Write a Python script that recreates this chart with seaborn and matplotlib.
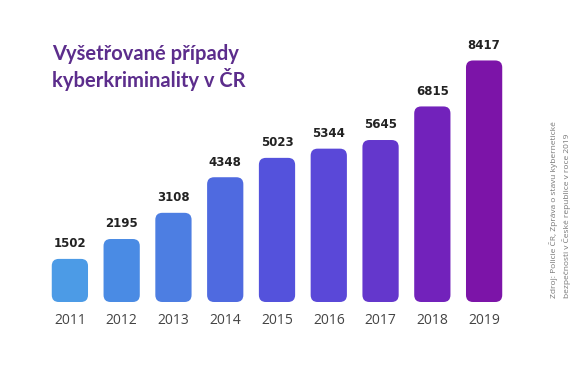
import numpy as np
import pandas as pd
import matplotlib
matplotlib.use('Agg')
import matplotlib.pyplot as plt
import seaborn as sns
from matplotlib.patches import FancyBboxPatch

# values
years  = ['2011', '2012', '2013', '2014', '2015', '2016', '2017', '2018', '2019']
cases  = [1502, 2195, 3108, 4348, 5023, 5344, 5645, 6815, 8417]
colors = ['#4c9be6', '#4a8be4', '#4d7ee2', '#4f6ae0', '#5452dc',
          '#5a48d8', '#6437cc', '#7222bb', '#7c14a8']

title  = 'Vyšetřované případy\nkyberkriminality v ČR'
source = ('Zdroj: Policie ČR, Zpráva o stavu kybernetické\n'
          'bezpečnosti v České republice v roce 2019')

df = pd.DataFrame({'year': years, 'cases': cases})

sns.set_style('white')
plt.rcParams['font.family'] = ['Open Sans', 'DejaVu Sans']

fig = plt.figure(figsize=(5.8, 3.7), dpi=100)
ax  = fig.add_axes([44 / 580, 68 / 370, 466 / 580, 264 / 370])

sns.barplot(data=df, x='year', y='cases', hue='year', palette=colors,
            legend=False, width=0.7, saturation=1, ax=ax)

ax.set_xlim(-0.5, 8.5)
ax.set_ylim(0, 9200)

# swap the square bars for rounded ones
fig.canvas.draw()
bbox = ax.get_window_extent()
x_per_px = 9.0 / bbox.width
y_per_px = 9200.0 / bbox.height
aspect = y_per_px / x_per_px
radius = 7 * x_per_px

for bar in list(ax.patches):
    x, w, h = bar.get_x(), bar.get_width(), bar.get_height()
    fc = bar.get_facecolor()
    bar.remove()
    ax.add_patch(FancyBboxPatch((x, 0), w, h,
                                boxstyle='round,pad=0,rounding_size=%g' % radius,
                                mutation_aspect=aspect, fc=fc, ec='none'))

for i, v in enumerate(cases):
    ax.text(i, v + 300, str(v), ha='center', va='bottom', fontsize=8.5,
            fontweight='bold', color='#222222', family='DejaVu Sans')

ax.set_xlabel('')
ax.set_ylabel('')
ax.set_yticks([])
ax.tick_params(axis='x', length=0, pad=8, labelsize=10, labelcolor='#444444')
sns.despine(ax=ax, left=True, bottom=True)

fig.text(52 / 580, 1 - 44 / 370, title, ha='left', va='top', fontsize=14.5,
         fontweight='bold', color='#5c2d8c', linespacing=1.2,
         family=['Lato', 'DejaVu Sans'])

fig.text(560 / 580, 1 - 298 / 370, source, rotation=90, ha='center',
         va='bottom', fontsize=6, color='#777777', linespacing=1.5,
         multialignment='left')

fig.savefig('out.png', dpi=100)
